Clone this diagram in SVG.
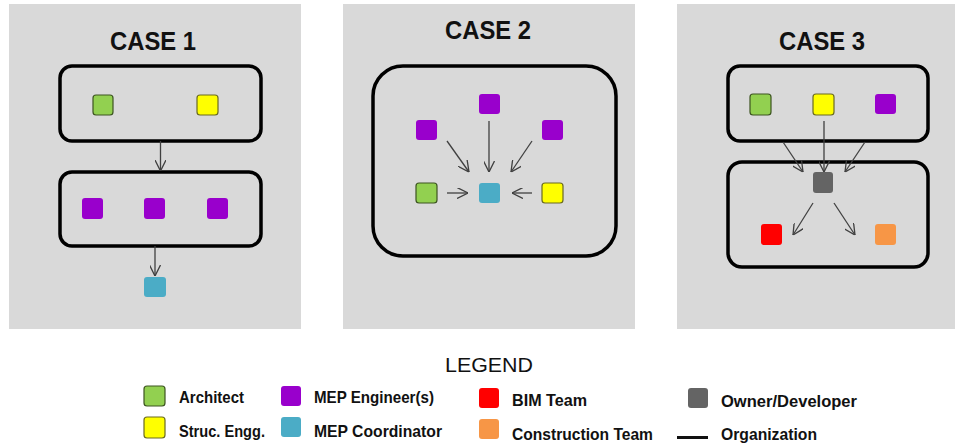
<svg xmlns="http://www.w3.org/2000/svg" width="955" height="444" viewBox="0 0 955 444">
  <style>
    .panel { fill: #d9d9d9; }
    .org { fill: none; stroke: #000; stroke-width: 3.5; }
    .title { font-family: "Liberation Sans", Arial, sans-serif; font-weight: bold; font-size: 25px; fill: #111; text-anchor: middle; }
    .leg { font-family: "Liberation Sans", Arial, sans-serif; font-weight: bold; font-size: 16.5px; fill: #111; }
    .arch { fill: #92d050; stroke: #3c5420; stroke-width: 1.2; }
    .struc { fill: #ffff00; stroke: #6a6a20; stroke-width: 1.2; }
    .mep { fill: #9900cc; }
    .coord { fill: #4bacc6; }
    .bim { fill: #ff0000; }
    .cons { fill: #f79646; }
    .owner { fill: #646464; }
    .link { stroke: #404040; stroke-width: 1.3; fill: none; marker-end: url(#head); }
  </style>
  <defs>
    <marker id="head" viewBox="0 0 10 10" refX="10" refY="5" markerWidth="11" markerHeight="11" markerUnits="userSpaceOnUse" orient="auto">
      <path d="M0,0 L10,5 L0,10" fill="none" stroke="#404040" stroke-width="1.2"/>
    </marker>
  </defs>

  <rect width="955" height="444" fill="#ffffff"/>

  <!-- Case 1 -->
  <g id="case1">
    <rect class="panel" x="9" y="4" width="292" height="325"/>
    <text class="title" x="153" y="50" textLength="86" lengthAdjust="spacingAndGlyphs">CASE 1</text>
    <rect id="c1-org-top" class="org" x="60" y="66" width="201" height="75" rx="12"/>
    <rect id="c1-org-bottom" class="org" x="60" y="172" width="201" height="74" rx="12"/>
    <rect id="c1-arch" class="arch" x="93" y="95" width="20" height="20" rx="3"/>
    <rect id="c1-struc" class="struc" x="197" y="95" width="21" height="20" rx="3"/>
    <rect id="c1-mep1" class="mep" x="82" y="198" width="21" height="21" rx="3"/>
    <rect id="c1-mep2" class="mep" x="144" y="198" width="21" height="21" rx="3"/>
    <rect id="c1-mep3" class="mep" x="207" y="198" width="21" height="21" rx="3"/>
    <rect id="c1-coord" class="coord" x="144" y="277" width="22" height="20" rx="3"/>
  </g>

  <!-- Case 2 -->
  <g id="case2">
    <rect class="panel" x="343" y="4" width="292" height="325"/>
    <text class="title" x="488" y="39" textLength="86" lengthAdjust="spacingAndGlyphs">CASE 2</text>
    <rect id="c2-org" class="org" x="373" y="66" width="243" height="190" rx="30"/>
    <rect id="c2-mep-top" class="mep" x="479" y="94" width="21" height="20" rx="3"/>
    <rect id="c2-mep-left" class="mep" x="416" y="120" width="21" height="20" rx="3"/>
    <rect id="c2-mep-right" class="mep" x="542" y="120" width="21" height="20" rx="3"/>
    <rect id="c2-arch" class="arch" x="416" y="183" width="21" height="20" rx="3"/>
    <rect id="c2-coord" class="coord" x="479" y="183" width="21" height="20" rx="3"/>
    <rect id="c2-struc" class="struc" x="542" y="183" width="21" height="20" rx="3"/>
  </g>

  <!-- Case 3 -->
  <g id="case3">
    <rect class="panel" x="677" y="4" width="278" height="325"/>
    <text class="title" x="822" y="50" textLength="86" lengthAdjust="spacingAndGlyphs">CASE 3</text>
    <rect id="c3-org-top" class="org" x="728" y="66" width="200" height="75" rx="12"/>
    <rect id="c3-org-bottom" class="org" x="728" y="162" width="200" height="105" rx="14"/>
    <rect id="c3-arch" class="arch" x="750" y="94" width="21" height="21" rx="3"/>
    <rect id="c3-struc" class="struc" x="813" y="94" width="21" height="21" rx="3"/>
    <rect id="c3-mep" class="mep" x="875" y="94" width="21" height="20" rx="3"/>
    <rect id="c3-owner" class="owner" x="813" y="172" width="20" height="21" rx="3"/>
    <rect id="c3-bim" class="bim" x="761" y="224" width="21" height="21" rx="3"/>
    <rect id="c3-cons" class="cons" x="875" y="224" width="21" height="21" rx="3"/>
  </g>

  <!-- Connectors -->
  <g id="connectors">
    <line class="link" x1="160.5" y1="141" x2="160.5" y2="171"/>
    <line class="link" x1="155" y1="246" x2="155" y2="276"/>

    <line class="link" x1="489" y1="121" x2="489" y2="172"/>
    <line class="link" x1="447" y1="141" x2="469" y2="172"/>
    <line class="link" x1="532" y1="141" x2="511" y2="172"/>
    <line class="link" x1="447" y1="193" x2="468" y2="193"/>
    <line class="link" x1="532" y1="193" x2="512" y2="193"/>

    <line class="link" x1="824" y1="121" x2="824" y2="172"/>
    <line class="link" x1="783" y1="142" x2="803" y2="172"/>
    <line class="link" x1="865" y1="142" x2="845" y2="172"/>
    <line class="link" x1="813" y1="203" x2="793" y2="235"/>
    <line class="link" x1="834" y1="203" x2="855" y2="235"/>
  </g>

  <!-- Legend -->
  <g id="legend">
    <text x="489" y="372" text-anchor="middle" font-family="'Liberation Sans', Arial, sans-serif" font-size="21" fill="#111" textLength="88" lengthAdjust="spacingAndGlyphs">LEGEND</text>

    <rect class="arch" x="144" y="386" width="21" height="20" rx="3" stroke="none"/>
    <text class="leg" x="179" y="403" textLength="65" lengthAdjust="spacingAndGlyphs">Architect</text>
    <rect class="struc" x="144" y="417" width="21" height="21" rx="3" stroke="none"/>
    <text class="leg" x="179" y="437" textLength="86" lengthAdjust="spacingAndGlyphs">Struc. Engg.</text>

    <rect class="mep" x="281" y="386" width="20" height="20" rx="3"/>
    <text class="leg" x="314" y="403" textLength="120" lengthAdjust="spacingAndGlyphs">MEP Engineer(s)</text>
    <rect class="coord" x="281" y="417" width="20" height="20" rx="3"/>
    <text class="leg" x="314" y="437" textLength="128" lengthAdjust="spacingAndGlyphs">MEP Coordinator</text>

    <rect class="bim" x="479" y="388" width="20" height="20" rx="3"/>
    <text class="leg" x="512" y="406" textLength="75" lengthAdjust="spacingAndGlyphs">BIM Team</text>
    <rect class="cons" x="479" y="419" width="20" height="20" rx="3"/>
    <text class="leg" x="512" y="440" textLength="141" lengthAdjust="spacingAndGlyphs">Construction Team</text>

    <rect class="owner" x="688" y="388" width="20" height="20" rx="3"/>
    <text class="leg" x="721" y="407" textLength="136" lengthAdjust="spacingAndGlyphs">Owner/Developer</text>
    <line x1="677" y1="437.5" x2="708" y2="437.5" stroke="#111" stroke-width="3"/>
    <text class="leg" x="721" y="440" textLength="96" lengthAdjust="spacingAndGlyphs">Organization</text>
  </g>
</svg>
